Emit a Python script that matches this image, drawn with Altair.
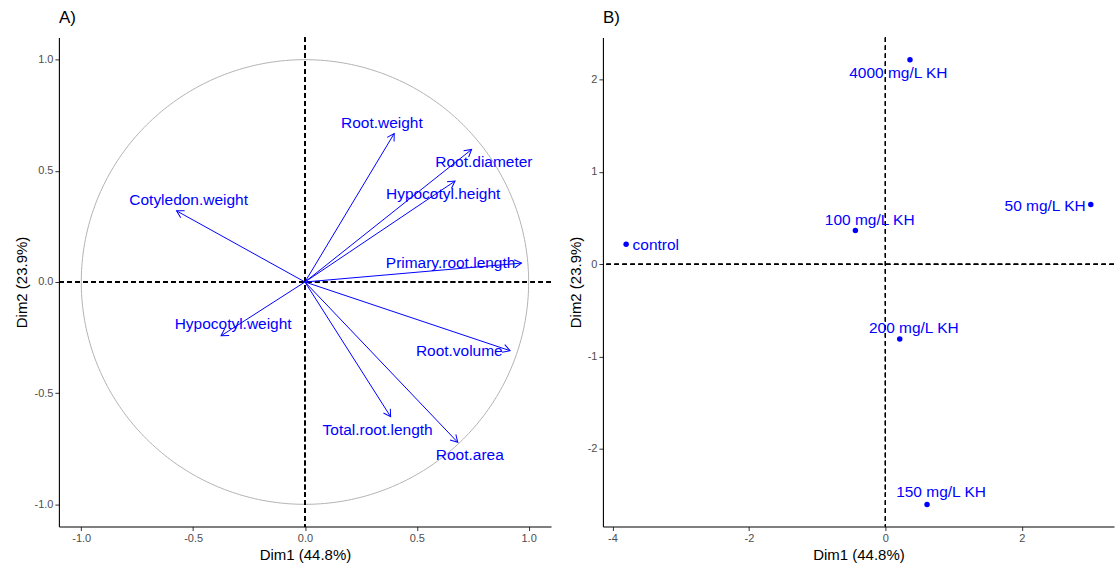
import altair as alt
import numpy as np
import pandas as pd

FONT = "Liberation Sans"
BLUE = "#0000FF"

# ---- Variables (correlation circle) ----
var_names = ["Root.weight", "Root.diameter", "Hypocotyl.height", "Cotyledon.weight",
             "Primary.root.length", "Hypocotyl.weight", "Root.volume",
             "Total.root.length", "Root.area"]
var_dim1 = [0.399, 0.745, 0.671, -0.574, 0.968, -0.375, 0.917, 0.383, 0.683]
var_dim2 = [0.668, 0.596, 0.454, 0.320, 0.085, -0.242, -0.309, -0.606, -0.721]
# repelled label anchors
var_label_x = [0.344, 0.800, 0.618, -0.520, 0.651, -0.321, 0.690, 0.325, 0.737]
var_label_y = [0.716, 0.539, 0.398, 0.368, 0.084, -0.190, -0.312, -0.667, -0.778]

# ---- Individuals ----
ind_names = ["4000 mg/L KH", "50 mg/L KH", "100 mg/L KH", "control",
             "200 mg/L KH", "150 mg/L KH"]
ind_dim1 = [0.36, 3.01, -0.44, -3.80, 0.21, 0.61]
ind_dim2 = [2.215, 0.647, 0.365, 0.216, -0.81, -2.60]
ind_label_x = [0.19, 2.34, -0.23, -3.365, 0.416, 0.815]
ind_label_y = [2.07, 0.636, 0.482, 0.205, -0.694, -2.47]

ticks_a = [-1.0, -0.5, 0.0, 0.5, 1.0]
ticks_bx = [-4, -2, 0, 2]
ticks_by = [-2, -1, 0, 1, 2]

xlab = "Dim1 (44.8%)"
ylab = "Dim2 (23.9%)"

vars_df = pd.DataFrame({"name": var_names, "dim1": var_dim1, "dim2": var_dim2,
                        "lx": var_label_x, "ly": var_label_y})
ind_df = pd.DataFrame({"name": ind_names, "dim1": ind_dim1, "dim2": ind_dim2,
                       "lx": ind_label_x, "ly": ind_label_y})

theta = np.linspace(0, 2 * np.pi, 361)
circle_df = pd.DataFrame({"i": np.arange(theta.size), "cx": np.cos(theta), "cy": np.sin(theta)})

minus_fix = "replace(format(datum.value, '.1f'), '\u2212', '-')"

dom_a = [-1.1, 1.1]
xa = alt.Scale(domain=dom_a, nice=False, zero=False)
ya = alt.Scale(domain=dom_a, nice=False, zero=False)

ax_xa = alt.Axis(values=ticks_a, labelExpr=minus_fix, title=xlab)
ax_ya = alt.Axis(values=ticks_a, labelExpr=minus_fix, title=ylab)

circle = alt.Chart(circle_df).mark_line(color="#B3B3B3", strokeWidth=1).encode(
    x=alt.X("cx:Q", scale=xa, axis=ax_xa),
    y=alt.Y("cy:Q", scale=ya, axis=ax_ya),
    order="i:Q",
)

dash = [4.5, 3.5]
vline_a = alt.Chart(vars_df).mark_rule(color="black", strokeDash=dash, strokeWidth=1.1).encode(
    x=alt.datum(0))
hline_a = alt.Chart(vars_df).mark_rule(color="black", strokeDash=dash, strokeWidth=1.1).encode(
    y=alt.datum(0))

shafts = alt.Chart(vars_df).mark_rule(color=BLUE, strokeWidth=1).encode(
    x=alt.X("dim1:Q", scale=xa),
    y=alt.Y("dim2:Q", scale=ya),
    x2=alt.X2(datum=0),
    y2=alt.Y2(datum=0),
)

heads = alt.Chart(vars_df).transform_calculate(
    ang="(360 - atan2(datum.dim2, datum.dim1) * 180 / PI) % 360"
).mark_point(
    shape="M -1 -0.577 L 0 0 L -1 0.577", filled=False, color=BLUE,
    strokeWidth=1, size=196, opacity=1,
).encode(
    x=alt.X("dim1:Q", scale=xa),
    y=alt.Y("dim2:Q", scale=ya),
    angle=alt.Angle("ang:Q", scale=None),
)

var_text = alt.Chart(vars_df).mark_text(
    color=BLUE, font=FONT, fontSize=15.5, align="center", baseline="middle"
).encode(
    x=alt.X("lx:Q", scale=xa),
    y=alt.Y("ly:Q", scale=ya),
    text="name:N",
)

panel_a = alt.layer(circle, vline_a, hline_a, shafts, heads, var_text).properties(
    width=493, height=490,
    title=alt.TitleParams("A)", anchor="start", frame="group", fontSize=17, font=FONT,
                          fontWeight="normal", color="black", offset=10),
)

xb = alt.Scale(domain=[-4.14, 3.35], nice=False, zero=False)
yb = alt.Scale(domain=[-2.84, 2.456], nice=False, zero=False)

vline_b = alt.Chart(ind_df).mark_rule(color="black", strokeDash=dash, strokeWidth=1.1).encode(
    x=alt.datum(0))
hline_b = alt.Chart(ind_df).mark_rule(color="black", strokeDash=dash, strokeWidth=1.1).encode(
    y=alt.datum(0))

pts = alt.Chart(ind_df).mark_circle(color=BLUE, size=30, opacity=1).encode(
    x=alt.X("dim1:Q", scale=xb,
            axis=alt.Axis(values=ticks_bx, labelExpr="toString(datum.value)", title=xlab)),
    y=alt.Y("dim2:Q", scale=yb,
            axis=alt.Axis(values=ticks_by, labelExpr="toString(datum.value)", title=ylab)),
)

ind_text = alt.Chart(ind_df).mark_text(
    color=BLUE, font=FONT, fontSize=15.5, align="center", baseline="middle"
).encode(
    x=alt.X("lx:Q", scale=xb),
    y=alt.Y("ly:Q", scale=yb),
    text="name:N",
)

panel_b = alt.layer(vline_b, hline_b, pts, ind_text).properties(
    width=512, height=490,
    title=alt.TitleParams("B)", anchor="start", frame="group", fontSize=17, font=FONT,
                          fontWeight="normal", color="black", offset=10),
)

chart = alt.hconcat(panel_a, panel_b, spacing=16).properties(
    padding={"left": 15, "top": 8, "right": 0, "bottom": 0},
    background="white",
).configure_view(stroke=None).configure_axis(
    grid=False,
    domainColor="black",
    domainWidth=1.1,
    tickColor="#333333",
    tickSize=4,
    labelColor="#4D4D4D",
    labelFont=FONT,
    labelFontSize=11,
    labelPadding=2,
    titleFont=FONT,
    titleFontSize=15,
    titleFontWeight="normal",
    titleColor="black",
    titlePadding=4,
)

chart.save("out.html", embed_options={"renderer": "svg", "actions": False})
